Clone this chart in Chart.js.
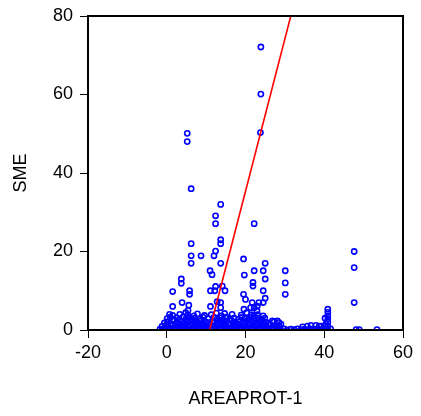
<!DOCTYPE html>
<html>
<head>
<meta charset="utf-8">
<script src="https://cdn.jsdelivr.net/npm/chart.js@4/dist/chart.umd.min.js"></script>
<style>
  html, body { margin: 0; padding: 0; background: #fff; }
  #wrap { width: 421px; height: 416px; }
</style>
</head>
<body>
<div id="wrap"><canvas id="c" width="421" height="416"></canvas></div>
<script>
// Observations as [AREAPROT-1, SME] pairs, grouped by where they fall.
const baseRow = [
  [-1.7,0.2],[-1.1,0.1],[-0.4,0.3],[0.3,0.1],[0.9,0.4],[1.6,0.2],[2.2,0.0],[2.9,0.3],[3.5,0.1],[4.3,0.2],
  [4.9,0.4],[5.6,0.1],[6.2,0.3],[7.0,0.2],[7.7,0.0],[8.3,0.3],[9.1,0.1],[9.8,0.2],[10.5,0.4],[11.2,0.1],
  [11.9,0.3],[12.6,0.0],[13.4,0.2],[14.1,0.4],[14.8,0.1],[15.5,0.3],[16.3,0.2],[17.0,0.0],[17.6,0.3],[18.4,0.1],
  [19.1,0.2],[19.9,0.4],[20.6,0.1],[21.3,0.3],[22.0,0.2],[22.8,0.0],[23.5,0.3],[24.2,0.1],[25.0,0.2],[25.7,0.4],
  [26.5,0.1],[27.2,0.3],[28.0,0.2],[28.9,0.1],[29.8,0.3],[30.6,0.0],[31.5,0.2],[32.4,0.1],[33.2,0.3],[34.1,0.1],
  [35.0,0.2],[35.8,0.0],[36.7,0.2],[37.5,0.1],[38.4,0.3],[39.3,0.1],[40.1,0.2],[40.9,0.0],[41.6,0.3],
  [48.1,0.1],[48.9,0.1],[53.4,0.1]
];
const lowBand = [
  [-1.2,0.9],[-0.3,1.1],[0.5,0.8],[1.3,1.2],[2.0,0.7],[2.7,1.0],[3.4,1.3],[4.1,0.8],[4.7,1.1],[5.4,0.9],
  [6.0,1.2],[6.8,0.7],[7.5,1.0],[8.1,1.3],[8.9,0.8],[9.5,1.1],[10.2,0.9],[10.9,1.2],[11.6,0.7],[12.3,1.0],
  [13.0,1.3],[13.7,0.8],[14.4,1.1],[15.1,0.9],[15.9,1.2],[16.6,0.7],[17.3,1.0],[18.0,1.3],[18.7,0.8],[19.4,1.1],
  [20.2,0.9],[20.9,1.2],[21.6,0.7],[22.4,1.0],[23.1,1.3],[23.8,0.8],[24.6,1.1],[25.3,0.9],[26.1,1.2],[26.9,0.8],
  [27.6,1.0],[28.5,1.0],[34.5,0.8],[35.7,1.0],[36.6,1.2],[37.9,1.2],[38.7,1.0],[39.2,1.0],[40.2,1.0],[40.9,1.0]
];
const midBand = [
  [-0.6,1.8],[0.2,2.1],[1.0,1.6],[1.7,2.3],[2.5,1.9],[3.1,1.7],[3.9,2.2],[4.5,1.6],[5.2,2.0],[5.9,2.4],
  [6.5,1.7],[7.3,2.1],[8.0,1.8],[8.6,2.3],[9.4,1.6],[10.1,2.0],[10.8,1.7],[11.5,2.2],[12.1,1.9],[12.9,1.6],
  [13.6,2.3],[14.2,1.8],[15.0,2.1],[15.7,1.7],[16.5,2.4],[17.2,1.9],[17.9,1.6],[18.6,2.2],[19.3,1.8],[20.0,2.1],
  [20.8,1.7],[21.5,2.3],[22.2,1.9],[23.0,1.6],[23.7,2.2],[24.4,1.8],[25.2,2.0],[26.0,1.7],[26.8,2.3],[27.3,2.1],
  [28.1,2.3],[28.5,1.9],[29.0,1.5],[40.4,1.5],[40.9,2.0]
];
const upperBand = [
  [0.1,2.9],[0.9,3.3],[1.8,2.7],[2.6,3.1],[3.3,2.6],[4.2,3.4],[4.9,2.8],[5.7,3.2],[6.4,2.7],[7.1,3.0],
  [8.4,2.8],[9.2,3.3],[10.6,2.9],[12.0,3.2],[12.8,2.7],[13.5,3.1],[14.3,2.6],[15.2,3.3],[16.0,2.8],[17.1,3.0],
  [18.2,2.7],[19.0,3.2],[19.8,2.9],[20.7,2.6],[21.4,3.3],[22.3,2.8],[23.2,3.1],[24.1,2.7],[24.9,3.0],[40.2,3.0],
  [40.9,2.8],
  [0.7,4.0],[1.5,3.7],[3.3,4.0],[4.8,4.4],[5.3,3.8],[6.9,3.6],[7.8,4.1],[9.6,3.7],[11.3,3.9],[12.6,4.3],
  [13.9,3.6],[14.7,4.2],[16.6,4.0],[18.9,3.8],[20.3,4.4],[21.5,3.9],[22.1,3.6],[23.1,3.9],[24.5,3.6],[40.9,3.6],
  [40.9,4.5]
];
const scattered = [
  [40.9,5.3],[5.4,5.0],[19.6,5.3],[21.3,5.7],[22.2,5.7],[22.9,4.9],[13.7,5.7],[1.5,6.0],[5.6,6.3],[11.1,6.0],
  [23.0,6.1],[3.9,7.0],[12.8,7.2],[13.7,7.0],[21.7,7.0],[23.4,7.0],[24.5,7.0],[47.6,7.0],[20.0,7.8],[25.0,8.1],
  [5.8,9.1],[19.5,9.1],[30.1,9.1],[1.5,9.8],[5.8,10.0],[11.1,10.0],[12.2,10.0],[14.8,10.0],[24.5,10.0],[12.4,11.1],
  [14.1,11.2],[21.9,11.2],[3.7,11.9],[21.9,12.1],[30.1,12.0],[3.7,13.0],[25.0,13.0],[11.5,14.1],[19.7,14.0],[11.0,15.1],
  [22.2,15.1],[24.5,15.1],[30.1,15.1],[47.6,15.9],[6.2,17.0],[13.7,17.0],[25.0,17.0],[19.5,18.1],[6.2,18.9],[8.7,18.9],
  [12.0,18.9],[12.4,20.1],[47.6,20.0],[6.2,22.0],[13.7,22.0],[13.7,23.0],[12.4,27.1],[22.2,27.1],[12.4,29.1],[13.7,32.0],
  [6.2,36.0],[5.2,48.0],[5.2,50.1],[23.8,50.3],[23.9,60.1],[23.9,72.1]
];

// Fitted regression line endpoints
const fitX = [10.9, 31.5];
const fitY = [0, 80];

// Axis ticks
const xTicks = [-20, 0, 20, 40, 60];
const yTicks = [0, 20, 40, 60, 80];

const observations = [...baseRow, ...lowBand, ...midBand, ...upperBand, ...scattered]
  .map(([x, y]) => ({ x, y }));
const fitPoints = fitX.map((x, i) => ({ x, y: fitY[i] }));

const FONT = "'Liberation Sans', Arial, sans-serif";

const frame = {
  id: 'frame',
  afterDatasetsDraw(chart) {
    const { ctx, chartArea: a } = chart;
    ctx.save();
    ctx.strokeStyle = '#000';
    ctx.lineWidth = 2;
    ctx.strokeRect(a.left, a.top, a.right - a.left, a.bottom - a.top);
    ctx.restore();
  }
};

new Chart(document.getElementById('c'), {
  type: 'scatter',
  data: {
    datasets: [
      {
        data: fitPoints,
        showLine: true,
        borderColor: '#ff0000',
        borderWidth: 1.6,
        pointRadius: 0,
        fill: false,
        order: 0
      },
      {
        data: observations,
        pointStyle: 'circle',
        pointRadius: 2.6,
        pointBorderWidth: 1.6,
        borderColor: '#0000ff',
        backgroundColor: 'rgba(0,0,0,0)',
        order: 1
      }
    ]
  },
  options: {
    responsive: false,
    animation: false,
    events: [],
    layout: { padding: { left: 0, right: 18, top: 16, bottom: 0 } },
    plugins: { legend: { display: false }, tooltip: { enabled: false } },
    scales: {
      x: {
        type: 'linear',
        min: xTicks[0],
        max: xTicks[xTicks.length - 1],
        afterBuildTicks(s) { s.ticks = xTicks.map(v => ({ value: v })); },
        ticks: { color: '#000', font: { family: FONT, size: 18 }, padding: 4, maxRotation: 0 },
        grid: { drawOnChartArea: false, tickLength: 8, color: '#000', lineWidth: 1 },
        border: { display: false },
        title: {
          display: true, text: 'AREAPROT-1', color: '#000',
          font: { family: FONT, size: 18 }, padding: { top: 0, bottom: 6 }
        },
        afterFit(s) { s.height = 86; s.paddingLeft = 0; s.paddingRight = 0; }
      },
      y: {
        type: 'linear',
        min: yTicks[0],
        max: yTicks[yTicks.length - 1],
        afterBuildTicks(s) { s.ticks = yTicks.map(v => ({ value: v })); },
        ticks: { color: '#000', font: { family: FONT, size: 18 }, padding: 7 },
        grid: { drawOnChartArea: false, tickLength: 8, color: '#000', lineWidth: 1 },
        border: { display: false },
        title: {
          display: true, text: 'SME', color: '#000',
          font: { family: FONT, size: 18 }, padding: { top: 10, bottom: 0 }
        },
        afterFit(s) { s.width = 88; s.paddingTop = 0; s.paddingBottom = 0; }
      }
    }
  },
  plugins: [frame]
});
</script>
</body>
</html>
